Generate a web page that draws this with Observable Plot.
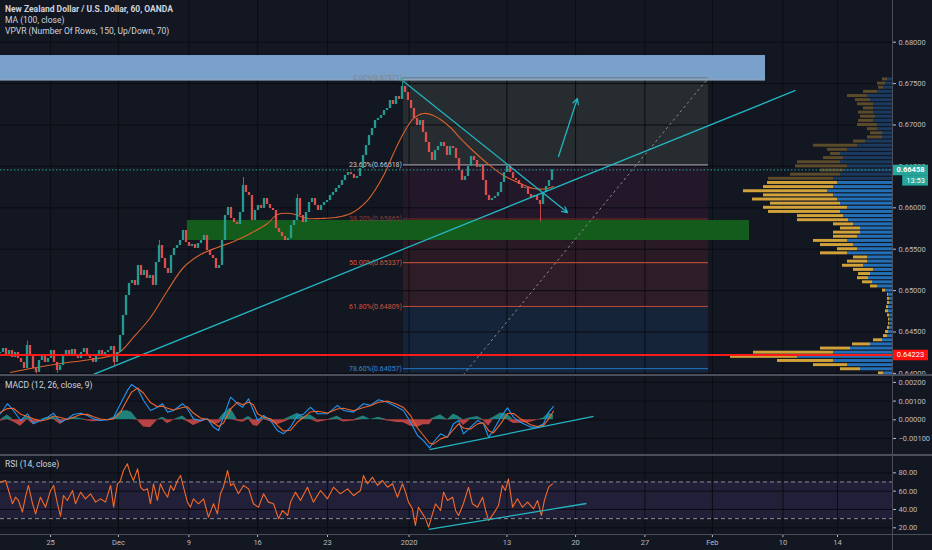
<!DOCTYPE html>
<html>
<head>
<meta charset="utf-8">
<script src="https://cdn.jsdelivr.net/npm/d3@7"></script>
<script src="https://cdn.jsdelivr.net/npm/@observablehq/plot@0.6"></script>
<style>
html,body{margin:0;padding:0;background:#131722;}
#chart{position:relative;width:932px;height:550px;background:#131722;overflow:hidden;font-family:Roboto,"Liberation Sans",sans-serif;}
.legend{position:absolute;left:5px;color:#d1d4dc;font-size:8.5px;line-height:11px;white-space:nowrap;}
.sep{position:absolute;background:#4a4e5a;}
</style>
</head>
<body>
<div id="chart"></div>
<script>
// ---------------- DATA ----------------
// NZD/USD closes, one per compressed bar (bar index = position on the time axis)
const closes = [
 0.64253,0.64301,0.64216,0.64277,0.64192,0.64253,0.64180,0.64132,0.64059,0.64337,
 0.64216,0.64059,0.64011,0.64156,0.64216,0.64132,0.64180,0.64277,0.64132,0.64035,
 0.64095,0.64216,0.64277,0.64204,0.64289,0.64228,0.64180,0.64253,0.64301,0.64216,
 0.64180,0.64132,0.64228,0.64277,0.64204,0.64253,0.64277,0.64325,0.64132,0.64253,
 0.64458,0.64699,0.64941,0.65086,0.65122,0.65062,0.65303,0.65182,0.65243,0.65146,
 0.65182,0.65062,0.65339,0.65545,0.65388,0.65267,0.65207,0.65424,0.65509,0.65545,
 0.65605,0.65726,0.65581,0.65533,0.65557,0.65509,0.65569,0.65605,0.65666,0.65484,
 0.65424,0.65388,0.65267,0.65303,0.65605,0.65907,0.66004,0.65871,0.65822,0.65798,
 0.65943,0.66269,0.66185,0.66149,0.65847,0.65967,0.66028,0.65992,0.66112,0.66040,
 0.65992,0.65967,0.65750,0.65702,0.65653,0.65605,0.65629,0.65786,0.65847,0.66112,
 0.65907,0.65822,0.65943,0.66064,0.66112,0.66028,0.65967,0.66028,0.66064,0.66088,
 0.66149,0.66185,0.66233,0.66269,0.66330,0.66390,0.66426,0.66402,0.66354,0.66378,
 0.66475,0.66632,0.66752,0.66873,0.66958,0.67054,0.67079,0.67115,0.67175,0.67199,
 0.67296,0.67248,0.67344,0.67308,0.67465,0.67393,0.67296,0.67199,0.67079,0.66994,
 0.67054,0.66909,0.66789,0.66668,0.66571,0.66692,0.66740,0.66789,0.66740,0.66632,
 0.66740,0.66716,0.66595,0.66450,0.66330,0.66378,0.66499,0.66620,0.66571,0.66487,
 0.66511,0.66330,0.66149,0.66088,0.66112,0.66136,0.66185,0.66306,0.66426,0.66499,
 0.66426,0.66354,0.66330,0.66281,0.66233,0.66245,0.66161,0.66124,0.66149,0.66088,
 0.66040,0.66185,0.66257,0.66330,0.66458];
const firstOpen = 0.64240;
// notable wick extremes [bar, price]
const wickExtremes = [[9,0.64390],[12,0.63995],[19,0.64000],[38,0.64080],[53,0.65605],[81,0.66366],[99,0.66160],[134,0.67571],[180,0.65830]];

// MA(100) [bar, price]
const maLine = [[3.3,0.64011],[10,0.64059],[20,0.64120],[30,0.64168],[39,0.64240],[44.3,0.64434],[50,0.64675],[55.7,0.65001],[61,0.65279],[66.7,0.65436],[72.3,0.65521],[77.7,0.65593],[83.3,0.65690],[89,0.65810],[92.3,0.65919],[96.7,0.65931],[102.3,0.65871],[106.7,0.65871],[111.7,0.65883],[116.7,0.65931],[122.3,0.66088],[127.7,0.66390],[131,0.66656],[134.3,0.66897],[137.7,0.67079],[141,0.67139],[144.3,0.67115],[150,0.66970],[153.3,0.66837],[156.7,0.66716],[162.3,0.66535],[167.7,0.66390],[173.3,0.66293],[177.7,0.66233],[182.3,0.66233],[184.3,0.66257]];

// MACD [bar, macd, signal]
const macdRows = [
 [0,0.00032,0.00040],[2.3,0.00086,0.00060],[4.3,0.00050,0.00062],[6.7,-0.00004,0.00030],[9,0.00032,0.00018],[11,-0.00021,0.00006],[13.3,-0.00004,-0.00006],[15.7,0.00014,0.00002],[17.7,0.00035,0.00020],[20,-0.00013,0.00012],
 [22.3,0.00005,0.00002],[24.3,0.00028,0.00014],[26.7,0.00035,0.00028],[29,0.00023,0.00029],[31,0.00005,0.00016],[33.3,-0.00004,0.00004],[35.7,0.00000,0.00000],[37.7,0.00014,0.00005],[40,0.00086,0.00040],[42.3,0.00157,0.00108],
 [43.7,0.00189,0.00148],[45.7,0.00166,0.00170],[47.7,0.00103,0.00142],[50,0.00050,0.00092],[52.3,0.00067,0.00070],[54,0.00086,0.00073],[55.7,0.00041,0.00062],[57.7,0.00050,0.00052],[60.7,0.00086,0.00066],[62.3,0.00059,0.00070],
 [64.3,0.00005,0.00036],[66.7,-0.00004,0.00010],[69,0.00005,0.00002],[71,-0.00039,-0.00016],[72.7,-0.00057,-0.00036],[74.3,0.00014,-0.00018],[76.7,0.00121,0.00058],[79,0.00086,0.00094],[80.7,0.00067,0.00080],[82.7,0.00112,0.00094],
 [84.3,0.00050,0.00080],[85.7,-0.00004,0.00032],[87.7,0.00023,0.00014],[90,-0.00004,0.00006],[92.3,-0.00057,-0.00030],[94.3,-0.00075,-0.00060],[96.7,-0.00039,-0.00056],[99,0.00023,-0.00012],[101,0.00030,0.00012],[103.3,0.00067,0.00042],
 [105.7,0.00032,0.00046],[109,0.00032,0.00036],[112.3,0.00077,0.00058],[114.3,0.00050,0.00062],[117.7,0.00041,0.00048],[121,0.00086,0.00066],[123.3,0.00077,0.00075],[126,0.00107,0.00094],[129,0.00094,0.00100],[132.3,0.00067,0.00082],
 [134.3,0.00050,0.00066],[136.7,-0.00013,0.00022],[139,-0.00084,-0.00044],[141,-0.00111,-0.00084],[143,-0.00150,-0.00124],[144.3,-0.00120,-0.00130],[146.7,-0.00075,-0.00102],[149,-0.00093,-0.00090],[151,-0.00021,-0.00052],[152.7,-0.00004,-0.00022],
 [154.3,-0.00075,-0.00044],[156.7,-0.00039,-0.00050],[159,-0.00004,-0.00022],[161,-0.00021,-0.00016],[162.7,-0.00093,-0.00058],[164.3,-0.00057,-0.00070],[166.7,0.00014,-0.00022],[169,0.00064,0.00034],[171,0.00014,0.00034],[173.3,-0.00013,0.00006],
 [176.7,-0.00039,-0.00026],[179,-0.00039,-0.00036],[181,-0.00021,-0.00030],[182.7,0.00041,0.00004],[184.3,0.00071,0.00046]];

// RSI(14) [bar, value]
const rsiRows = [
 [0,69.8],[1.7,71.6],[2.7,60.7],[4,46.2],[5,53.4],[6,49.8],[7.3,37.1],[8.3,53.4],[9.3,66.2],[10.7,46.2],[11.7,35.2],[13.3,53.4],[15,42.5],[16.7,60.7],[17.7,66.2],[19,46.2],[20,32.7],[21,55.2],[22.3,49.8],[24,60.7],
 [25,46.2],[26.7,58.9],[28.3,51.6],[30,57.1],[31.7,48.0],[33.3,51.6],[35,48.0],[36.7,66.2],[37.7,42.5],[39,68.0],[40,71.6],[41,82.5],[42.3,89.8],[43.3,78.9],[44.3,71.6],[45.7,84.3],[46.7,64.3],[47.7,60.7],[49,62.5],[50,46.2],
 [51,68.0],[52.3,49.8],[53.3,68.0],[54.3,60.7],[55.7,53.4],[56.7,66.2],[57.7,60.7],[59,71.6],[60,77.1],[61,64.3],[62.3,48.0],[63.3,42.5],[64.3,51.6],[66,46.2],[67.7,51.6],[69.3,31.6],[71,46.2],[72.3,35.2],[73.3,57.1],[74.3,64.3],
 [75.7,82.5],[76.7,66.2],[77.7,68.0],[79.3,57.1],[81,66.2],[82.7,62.5],[84.3,46.2],[86,42.5],[87.7,57.1],[89.3,48.0],[91,46.2],[92.7,29.8],[94,38.9],[95.7,33.4],[96.7,48.0],[98.3,58.9],[100,49.8],[102.3,64.3],[104.3,48.0],[106.7,60.7],
 [109,51.6],[111,64.3],[113.3,57.1],[115.7,62.5],[117.7,55.2],[120,60.7],[121,77.1],[122.3,68.0],[124,75.2],[125.7,66.2],[127.3,71.6],[129,64.3],[130.7,68.0],[132.3,53.4],[134,68.0],[135,58.9],[136,48.0],[137.3,40.7],[138.3,22.5],[139.3,42.5],
 [140.7,35.2],[141.7,29.8],[142.7,20.7],[144,35.2],[145,46.2],[146.7,38.9],[147.7,58.9],[149,49.8],[150.7,53.4],[151.7,38.9],[152.7,33.4],[154.3,46.2],[156,64.3],[157.3,46.2],[159,42.5],[160.7,53.4],[161.7,38.9],[162.7,28.0],[164.3,35.2],[166,44.3],
 [167.3,66.2],[168.3,60.7],[169.3,73.4],[170.7,42.5],[172.3,51.6],[174,42.5],[175.7,48.0],[177.7,40.7],[179,49.8],[180.3,33.4],[181.3,49.8],[182.7,64.3],[184,68.0]];

// Volume profile (VPVR) rows: row price, up volume, down volume
const vpPrice = [0.67550,0.67500,0.67450,0.67400,0.67350,0.67300,0.67250,0.67200,0.67150,0.67100,0.67050,0.67000,0.66950,0.66900,0.66850,0.66800,0.66750,0.66700,0.66650,0.66600,0.66550,0.66500,0.66450,0.66400,0.66350,0.66300,0.66250,0.66200,0.66150,0.66100,0.66050,0.66000,0.65950,0.65900,0.65850,0.65800,0.65750,0.65700,0.65650,0.65600,0.65550,0.65500,0.65450,0.65400,0.65350,0.65300,0.65250,0.65200,0.65150,0.65100,0.65050,0.65000,0.64950,0.64900,0.64850,0.64800,0.64750,0.64700,0.64650,0.64600,0.64550,0.64500,0.64450,0.64400,0.64350,0.64300,0.64250,0.64200,0.64150,0.64100,0.64050,0.64000];
const vpUp   = [5,7,9,15,25,22,19,19,19,17,19,15,15,10,10,27,35,45,52,49,52,45,49,52,59,55,59,65,59,55,52,45,52,49,44,39,32,32,35,45,39,35,45,25,25,29,19,22,24,20,15,7,4,3,3,4,4,3,3,3,3,4,5,10,22,42,59,95,59,45,32,9];
const vpDown = [5,8,5,14,20,15,16,10,15,15,15,20,10,12,15,12,44,20,10,20,43,52,23,50,65,70,70,84,70,85,70,84,72,46,51,20,20,27,24,34,33,20,27,14,20,21,20,12,11,10,7,3,1,2,2,2,3,2,1,1,2,3,4,9,18,30,80,67,56,34,20,5];
const vaHigh = 0.6631;   // top of value area (70%)

// Fibonacci retracement
const fibRatios = ["0.00%","23.60%","38.20%","50.00%","61.80%","78.60%"];
const fibPrices = [0.67571,0.66518,0.65865,0.65337,0.64809,0.64057];
const fib100 = 0.63109;
const fibStartBar = 134.33, fibEndBar = 236;

// drawn zones
const zoneBoxes = [
 {x1: 0, x2: 255, y1: 0.67545, y2: 0.67839, fill: "#79a1c9"},
 {x1: 62.33, x2: 249.67, y1: 0.65605, y2: 0.65847, fill: "#145c1c"}];
// drawn trend lines
const trendLines = [{x1: 31, y1: 0.63987, x2: 265, y2: 0.67417}];
const trendArrows = [
 {x1: 134.4, y1: 0.67525, x2: 189, y2: 0.65943},
 {x1: 186, y1: 0.66620, x2: 192.3, y2: 0.67320}];
const macdTrend = [{x1: 143, y1: -0.00159, x2: 197.7, y2: 0.00018}];
const rsiTrend = [{x1: 142.7, y1: 18.2, x2: 195.3, y2: 46.5}];
const redLevel = 0.64223;
const countdown = "13:53";

// ticks
const priceTicks = [0.640,0.645,0.650,0.655,0.660,0.665,0.670,0.675,0.680];
const macdTicks = [-0.001,0,0.001,0.002];
const rsiTicks = [20,40,60,80];
const rsiBands = [30,70];
const xTickBars = [16.7,39.3,62.8,85.7,109,136.2,168.8,191.7,214.8,237.3,260.8,279];
const xTickLabels = ["25","Dec","9","16","23","2020","13","20","27","Feb","10","14"];

// ---------------- LAYOUT / STYLE ----------------
const W = 932, AX = 40, FRAME = W - AX, PXBAR = 3;
const xMax = FRAME / PXBAR;
const priceDomain = [0.639746, 0.685036];
const macdDomain = [-0.001856, 0.002369];
const rsiDomain = [12.69, 98.87];
const FONT = "Roboto, 'Liberation Sans', sans-serif";
const GRID = "#0b0d13", TXT = "#b8bbc3";
const UP = "#26a69a", DOWN = "#ef5350", CYAN = "#22b5c1";
const zoneFill = ["#262c2f","#221829","#2a1a23","#2e1c26","#152439","#152439"];
const fibLine = ["#787b86","#b2b5be","#7a2a2e","#cf543d","#c9473c","#1f78c8"];
const fibText = ["#80838c","#c8cad0","#8d3a3a","#d9573d","#d6503d","#2f8ad8"];
const fmt5 = d3.format(".5f"), fmt2 = d3.format(".2f");
const labelOf = new Map(xTickBars.map((b, k) => [b, xTickLabels[k]]));
const baseStyle = {background: "transparent", fontFamily: FONT, fontSize: "7.5px", color: TXT};

const chart = document.getElementById("chart");
function place(node, top) {
  node.style.position = "absolute"; node.style.left = "0px"; node.style.top = top + "px";
  chart.appendChild(node);
}

// derived tables
const candles = closes.map((c, i) => ({i, o: i === 0 ? firstOpen : closes[i - 1], c}));
const wicks = wickExtremes.map(([b, p]) => {
  const cd = candles[b];
  const edge = p > Math.max(cd.o, cd.c) ? Math.max(cd.o, cd.c) : Math.min(cd.o, cd.c);
  return {i: b, y1: edge, y2: p, up: cd.c >= cd.o};
});
const fibLevels = fibPrices.map((p, k) => ({price: p, ratio: fibRatios[k], line: fibLine[k], text: fibText[k]}));
const fibZones = fibPrices.map((p, k) => ({top: p, bottom: k + 1 < fibPrices.length ? fibPrices[k + 1] : fib100, fill: zoneFill[k]}));
const lastPrice = closes[closes.length - 1];
const macdData = macdRows.map(([b, m, s]) => ({b, m, s, h: m - s}));
const rsiData = rsiRows.map(([b, v]) => ({b, v}));
const vpRows = vpPrice.map((p, k) => ({p, up: vpUp[k], down: vpDown[k], va: p <= vaHigh}));
const rowH = 0.0005;

// ---------------- PRICE PANE ----------------
const price = Plot.plot({
  width: W, height: 375, marginLeft: 0, marginRight: AX, marginTop: 0, marginBottom: 0,
  x: {domain: [0, xMax], axis: null},
  y: {domain: priceDomain},
  color: {type: "identity"},
  style: baseStyle,
  marks: [
    Plot.rect(fibZones, {x1: fibStartBar, x2: fibEndBar, y1: "top", y2: "bottom", fill: "fill", clip: true}),
    Plot.ruleY(priceTicks, {stroke: GRID, strokeWidth: 1}),
    Plot.ruleX(xTickBars, {stroke: GRID, strokeWidth: 1}),
    Plot.rect(zoneBoxes, {x1: "x1", x2: "x2", y1: "y1", y2: "y2", fill: "fill", clip: true}),
    Plot.ruleY([zoneBoxes[0]], {y: "y1", x1: "x1", x2: "x2", stroke: "#a6c0da", strokeWidth: 1.2}),
    Plot.ruleY(fibLevels, {y: "price", x1: fibStartBar, x2: fibEndBar, stroke: "line", strokeWidth: 1}),
    Plot.text(fibLevels, {x: fibStartBar, y: "price", text: d => `${d.ratio}(${fmt5(d.price)})`, textAnchor: "end", dx: -1.5, fill: "text", fontSize: 7}),
    Plot.link([0], {x1: fibStartBar, y1: fib100, x2: fibEndBar, y2: fibPrices[0], stroke: "#8a8d96", strokeWidth: 1, strokeDasharray: "2.5,3", clip: true}),
    Plot.line(maLine, {x: d => d[0], y: d => d[1], stroke: "#d9622b", strokeWidth: 1.1, curve: "catmull-rom"}),
    Plot.ruleX(wicks, {x: "i", y1: "y1", y2: "y2", stroke: d => d.up ? UP : DOWN, strokeWidth: 0.8}),
    Plot.rect(candles, {x1: d => d.i - 0.38, x2: d => d.i + 0.38, y1: "o", y2: "c", fill: d => d.c >= d.o ? UP : DOWN, fillOpacity: 0.92}),
    Plot.link(trendLines, {x1: "x1", y1: "y1", x2: "x2", y2: "y2", stroke: CYAN, strokeWidth: 1.3, clip: true}),
    Plot.arrow(trendArrows, {x1: "x1", y1: "y1", x2: "x2", y2: "y2", stroke: CYAN, strokeWidth: 1.3, headLength: 7, headAngle: 55}),
    Plot.axisY(priceTicks, {anchor: "right", tickSize: 3, tickPadding: 3, tickFormat: fmt5, label: null, color: TXT}),
    Plot.ruleY([lastPrice], {x1: xMax, x2: xMax + 12, stroke: UP, strokeWidth: 10.5}),
    Plot.ruleY([lastPrice], {x1: xMax + 3.4, x2: xMax + 12, dy: 10.5, stroke: UP, strokeWidth: 10.5}),
    Plot.text([lastPrice], {x: xMax, y: d => d, dx: 18, text: d => fmt5(d), fill: "#ffffff", fontWeight: "bold"}),
    Plot.text([lastPrice], {x: xMax + 7.7, y: d => d, dy: 10.5, text: () => countdown, fill: "#ffffff"}),
    Plot.ruleY([redLevel], {x1: xMax, x2: xMax + 12, stroke: "#ff1010", strokeWidth: 10.5}),
    Plot.text([redLevel], {x: xMax, y: d => d, dx: 18, text: d => fmt5(d), fill: "#ffffff"})
  ]
});
place(price, 0);

// ---------------- VPVR overlay (own volume scale) ----------------
const vp = Plot.plot({
  width: W, height: 375, marginLeft: 0, marginRight: AX, marginTop: 0, marginBottom: 0,
  x: {domain: [0, FRAME], reverse: true, axis: null},
  y: {domain: priceDomain, axis: null},
  color: {type: "identity"},
  style: baseStyle,
  marks: [
    Plot.rect(vpRows, {x1: 0, x2: "up", y1: d => d.p - rowH / 2, y2: d => d.p + rowH / 2, insetTop: 0.6, insetBottom: 0.6, fill: d => d.va ? "#2370b8" : "#1b3a5f"}),
    Plot.rect(vpRows, {x1: "up", x2: d => d.up + d.down, y1: d => d.p - rowH / 2, y2: d => d.p + rowH / 2, insetTop: 0.6, insetBottom: 0.6, fill: d => d.va ? "#d2a23a" : "#5c4b2b"}),
    Plot.ruleY([redLevel], {stroke: "#ff1a1a", strokeWidth: 2}),
    Plot.ruleY([lastPrice], {stroke: UP, strokeWidth: 1, strokeDasharray: "1.5,2"})
  ]
});
place(vp, 0);

// ---------------- MACD PANE ----------------
const macd = Plot.plot({
  width: W, height: 79, marginLeft: 0, marginRight: AX, marginTop: 0, marginBottom: 0,
  x: {domain: [0, xMax], axis: null},
  y: {domain: macdDomain},
  style: baseStyle,
  marks: [
    Plot.ruleY(macdTicks, {stroke: GRID}),
    Plot.ruleX(xTickBars, {stroke: GRID}),
    Plot.areaY(macdData, {x: "b", y: d => Math.max(0, d.h), fill: UP, fillOpacity: 0.75}),
    Plot.areaY(macdData, {x: "b", y: d => Math.min(0, d.h), fill: DOWN, fillOpacity: 0.75}),
    Plot.line(macdData, {x: "b", y: "m", stroke: "#2196f3", strokeWidth: 1.1}),
    Plot.line(macdData, {x: "b", y: "s", stroke: "#f0652a", strokeWidth: 1.1}),
    Plot.link(macdTrend, {x1: "x1", y1: "y1", x2: "x2", y2: "y2", stroke: CYAN, strokeWidth: 1.3}),
    Plot.axisY(macdTicks, {anchor: "right", tickSize: 3, tickPadding: 3, tickFormat: fmt5, label: null, color: TXT})
  ]
});
place(macd, 375);

// ---------------- RSI PANE ----------------
const rsi = Plot.plot({
  width: W, height: 95, marginLeft: 0, marginRight: AX, marginTop: 0, marginBottom: 16,
  x: {domain: [0, xMax]},
  y: {domain: rsiDomain},
  style: baseStyle,
  marks: [
    Plot.rect([0], {x1: 0, x2: xMax, y1: rsiBands[0], y2: rsiBands[1], fill: "#7e57c2", fillOpacity: 0.14}),
    Plot.ruleY(rsiTicks, {stroke: GRID}),
    Plot.ruleX(xTickBars, {stroke: GRID}),
    Plot.ruleY(rsiBands, {stroke: "#8a8d96", strokeDasharray: "4,3"}),
    Plot.line(rsiData, {x: "b", y: "v", stroke: "#f26b2a", strokeWidth: 1.1}),
    Plot.link(rsiTrend, {x1: "x1", y1: "y1", x2: "x2", y2: "y2", stroke: CYAN, strokeWidth: 1.3}),
    Plot.axisY(rsiTicks, {anchor: "right", tickSize: 3, tickPadding: 3, tickFormat: fmt2, label: null, color: TXT}),
    Plot.axisX(xTickBars, {anchor: "bottom", tickSize: 3, tickPadding: 2, tickFormat: d => labelOf.get(d), label: null, color: TXT})
  ]
});
place(rsi, 455);

// ---------------- separators & legends ----------------
function sep(l, t, w, h) { const d = document.createElement("div"); d.className = "sep"; Object.assign(d.style, {left: l + "px", top: t + "px", width: w + "px", height: h + "px"}); chart.appendChild(d); }
sep(0, 374, W, 1.5); sep(0, 454, W, 1.5); sep(0, 534, W, 1); sep(FRAME, 0, 1, 550);

function legend(text, top, bold) { const d = document.createElement("div"); d.className = "legend"; d.textContent = text; d.style.top = top + "px"; if (bold) d.style.fontWeight = "bold"; chart.appendChild(d); }
legend("New Zealand Dollar / U.S. Dollar, 60, OANDA", 3.5, true);
legend("MA (100, close)", 15, false);
legend("VPVR (Number Of Rows, 150, Up/Down, 70)", 26, false);
legend("MACD (12, 26, close, 9)", 379.5, false);
legend("RSI (14, close)", 458.5, false);
</script>
</body>
</html>
